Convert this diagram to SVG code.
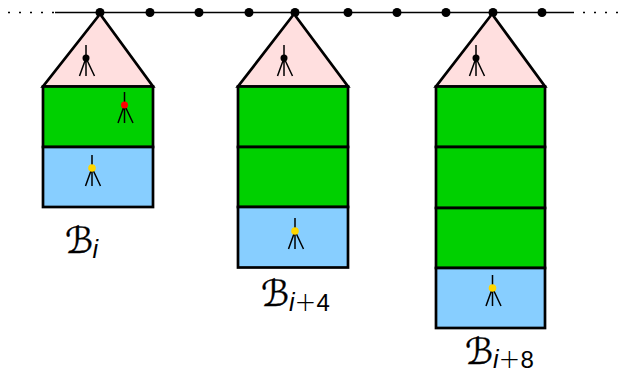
<svg xmlns="http://www.w3.org/2000/svg" width="620" height="374" viewBox="0 0 620 374">
<style>
.b{stroke:#000;stroke-width:2.7;stroke-linejoin:miter}
.roof{fill:#ffdfdf}.g{fill:#00d000}.bl{fill:#87ceff}
.t{fill:none;stroke:#000;stroke-width:1.5}
.k{fill:#000}.r{fill:#f00}.y{fill:#ffd700}
.s{font-family:"DejaVu Sans",sans-serif;font-size:36px;fill:#000;stroke:#000;stroke-width:.3}
.i{font-family:"Liberation Sans",sans-serif;font-style:italic;font-size:25px;stroke-width:0}
.p{font-family:"DejaVu Sans",sans-serif;font-weight:200;font-size:26px;stroke-width:0}
.n{font-family:"Liberation Sans",sans-serif;font-size:24px;stroke-width:0}
</style>
<defs>
<g id="tri"><path class="t" d="M0-13V18M0 0L-6.500 18M0 0L8.500 18"/></g>
</defs>
<g id="connectors">
<path d="M55 12.500H572" stroke="#000" stroke-width="1.400"/>
<path d="M8 12.500H55M572 12.500H620" stroke="#000" stroke-width="1.400" stroke-dasharray="2 9"/>
</g>
<g id="spine-dots" class="k">
<circle cx="100" cy="12.500" r="4.500"/><circle cx="150" cy="12.500" r="4.500"/><circle cx="199" cy="12.500" r="4.500"/><circle cx="249" cy="12.500" r="4.500"/><circle cx="295" cy="12.500" r="4.500"/><circle cx="348" cy="12.500" r="4.500"/><circle cx="397" cy="12.500" r="4.500"/><circle cx="446" cy="12.500" r="4.500"/><circle cx="493" cy="12.500" r="4.500"/><circle cx="542" cy="12.500" r="4.500"/>
</g>
<g id="block-i">
<path class="b roof" d="M100 14L43 86.500H153Z"/>
<rect class="b g" x="43" y="86.500" width="110" height="60.500"/>
<rect class="b bl" x="43" y="147" width="110" height="60"/>
<use href="#tri" x="86" y="58"/><circle class="k" cx="86" cy="58" r="3.500"/>
<use href="#tri" x="124.500" y="105"/><circle class="r" cx="124.500" cy="105" r="3.500"/>
<use href="#tri" x="92" y="168"/><circle class="y" cx="92" cy="168" r="3.800"/>
<text class="s" x="65" y="253">ℬ<tspan class="i" x="92.500" y="258">i</tspan></text>
</g>
<g id="block-i4">
<path class="b roof" d="M294 14L238 86.500H348Z"/>
<rect class="b g" x="238" y="86.500" width="110" height="60.500"/>
<rect class="b g" x="238" y="147" width="110" height="60"/>
<rect class="b bl" x="238" y="207" width="110" height="60.500"/>
<use href="#tri" x="284" y="58"/><circle class="k" cx="284" cy="58" r="3.500"/>
<use href="#tri" x="295" y="231"/><circle class="y" cx="295" cy="231" r="3.800"/>
<text class="s" x="261" y="306">ℬ<tspan class="i" x="289" y="311">i</tspan><tspan class="p" x="294.500" y="311">+</tspan><tspan class="n" x="316.500" y="311">4</tspan></text>
</g>
<g id="block-i8">
<path class="b roof" d="M492 14L436 86.500H545Z"/>
<rect class="b g" x="436" y="86.500" width="109" height="60.500"/>
<rect class="b g" x="436" y="147" width="109" height="61"/>
<rect class="b g" x="436" y="208" width="109" height="60"/>
<rect class="b bl" x="436" y="268" width="109" height="60"/>
<use href="#tri" x="476" y="58"/><circle class="k" cx="476" cy="58" r="3.500"/>
<use href="#tri" x="492.500" y="288"/><circle class="y" cx="492.500" cy="288" r="3.800"/>
<text class="s" x="465" y="364">ℬ<tspan class="i" x="493" y="368">i</tspan><tspan class="p" x="498.500" y="368">+</tspan><tspan class="n" x="520.500" y="368">8</tspan></text>
</g>
</svg>
